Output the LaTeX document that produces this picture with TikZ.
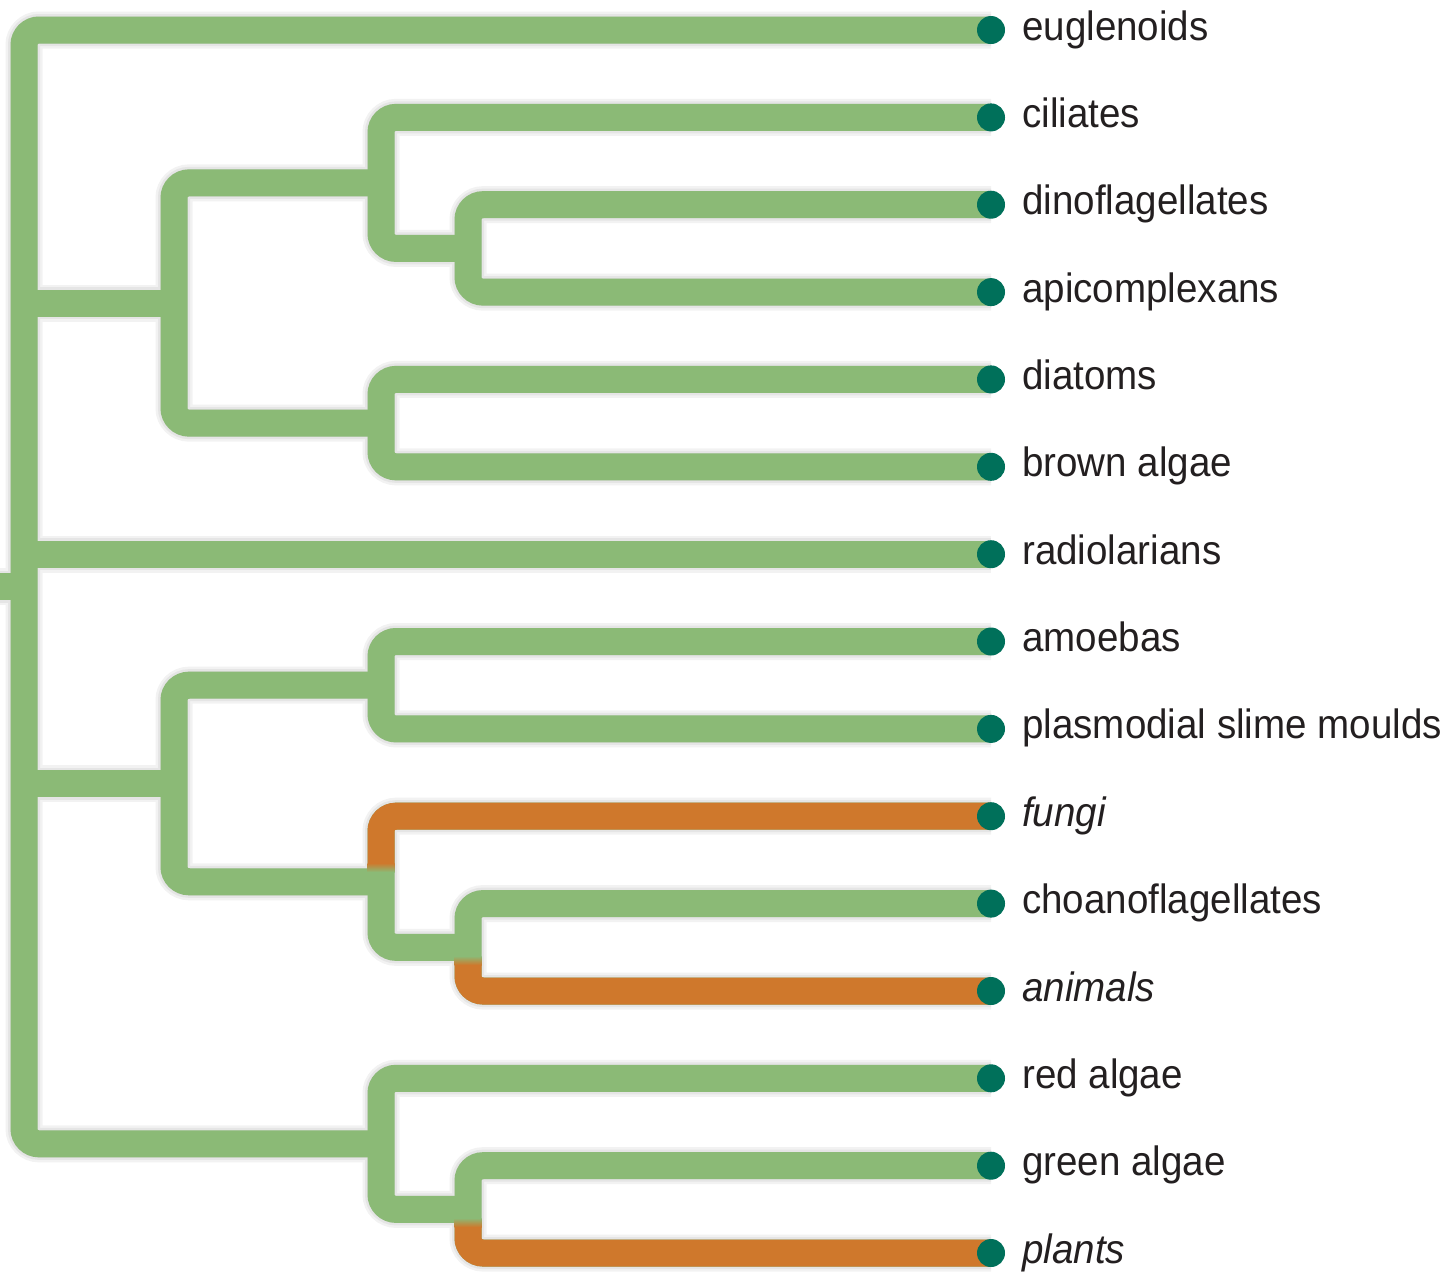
\documentclass[tikz,border=0pt]{standalone}
\usepackage{fontspec}
\setmainfont{Liberation Sans}[FakeStretch=0.94]
\usetikzlibrary{calc}
\definecolor{brgreen}{HTML}{8BBA76}
\definecolor{brorange}{HTML}{CF782C}
\definecolor{dotc}{HTML}{00705A}
\definecolor{txt}{HTML}{231F20}
\tikzset{
  brbase/.style={line width=27, rounded corners=15, line cap=butt},
  brg/.style={brbase, draw=brgreen},
  bro/.style={brbase, draw=brorange},
  shone/.style={line width=37, rounded corners=15, draw=black!5},
  shtwo/.style={line width=32, rounded corners=15, draw=black!10},
  shthree/.style={line width=27, rounded corners=15, draw=black!16},
  leafdot/.style={circle, fill=dotc, minimum size=28, inner sep=0},
  lab/.style={anchor=base west, inner sep=0, text=txt, font=\fontsize{41}{43}\selectfont},
  itlab/.style={lab, font=\fontsize{41}{43}\selectfont\itshape},
}
\newcommand\treebranches[1]{%
  \draw[#1] (e1) -- (top) -- (bot) -- (jC);
  \draw[#1] (rootend) -- (root);
  \draw[#1] (jA -| top) -- (jA);
  \draw[#1] (e7 -| top) -- (e7);
  \draw[#1] (jB -| top) -- (jB);
  \draw[#1] (jA1) -- (jA1 -| jA) -- (jA2 -| jA) -- (jA2);
  \draw[#1] (e2) -- (e2 -| jA1) -- (jA1b -| jA1) -- (jA1b);
  \draw[#1] (e3) -- (e3 -| jA1b) -- (e4 -| jA1b) -- (e4);
  \draw[#1] (e5) -- (e5 -| jA2) -- (e6 -| jA2) -- (e6);
  \draw[#1] (jB1) -- (jB1 -| jB) -- (jB2 -| jB) -- (jB2);
  \draw[#1] (e8) -- (e8 -| jB1) -- (e9 -| jB1) -- (e9);
  \draw[#1] (e10) -- (e10 -| jB2) -- (jB2b -| jB2) -- (jB2b);
  \draw[#1] (e11) -- (e11 -| jB2b) -- (e12 -| jB2b) -- (e12);
  \draw[#1] (e13) -- (e13 -| jC) -- (jC1 -| jC) -- (jC1);
  \draw[#1] (e14) -- (e14 -| jC1) -- (e15 -| jC1) -- (e15);
}
\begin{document}
\begin{tikzpicture}[x=1pt,y=-1pt]
\useasboundingbox (0,0) rectangle (1455,1283);
% leaf positions
\coordinate (e1) at (991,30);
\coordinate (e2) at (991,117.4);
\coordinate (e3) at (991,204.7);
\coordinate (e4) at (991,292.1);
\coordinate (e5) at (991,379.4);
\coordinate (e6) at (991,466.8);
\coordinate (e7) at (991,554.2);
\coordinate (e8) at (991,641.5);
\coordinate (e9) at (991,728.9);
\coordinate (e10) at (991,816.2);
\coordinate (e11) at (991,903.6);
\coordinate (e12) at (991,991);
\coordinate (e13) at (991,1078.3);
\coordinate (e14) at (991,1165.7);
\coordinate (e15) at (991,1253);
% internal junctions
\coordinate (top) at (24,30);
\coordinate (bot) at (24,1143.8);
\coordinate (root) at (24,586.9);
\coordinate (rootend) at (0,586.9);
\coordinate (jA) at (174,303);
\coordinate (jA1) at (381,182.9);
\coordinate (jA1b) at (468,248.4);
\coordinate (jA2) at (381,423.1);
\coordinate (jB) at (174,783.5);
\coordinate (jB1) at (381,685.2);
\coordinate (jB2) at (381,881.75);
\coordinate (jB2b) at (468,947.3);
\coordinate (jC) at (381,1143.8);
\coordinate (jC1) at (468,1209.35);
\coordinate (oF) at (381,864);
\coordinate (oA) at (468,964);
\coordinate (oP) at (468,1226);
% shadows
\begin{scope}[shift={(5,9)}]
  \treebranches{shone}
  \treebranches{shtwo}
  \treebranches{shthree}
\end{scope}
% branches
\treebranches{brg}
% orange lineages
\draw[bro] (oF) -- (e10 -| jB2) -- (e10);
\draw[bro] (oA) -- (e12 -| jB2b) -- (e12);
\draw[bro] (oP) -- (e15 -| jC1) -- (e15);
\shade[top color=brorange, bottom color=brgreen] (367.5,863) rectangle (394.5,872);
\shade[top color=brgreen, bottom color=brorange] (454.5,956) rectangle (481.5,965);
\shade[top color=brgreen, bottom color=brorange] (454.5,1218) rectangle (481.5,1227);
% leaf dots
\foreach \i in {1,...,15} \node[leafdot] (d\i) at (e\i) {};
% labels
\node[lab] (l1) at ($(e1)+(31,10)$) {euglenoids};
\node[lab] (l2) at ($(e2)+(31,10)$) {ciliates};
\node[lab] (l3) at ($(e3)+(31,10)$) {dinoflagellates};
\node[lab] (l4) at ($(e4)+(31,10)$) {apicomplexans};
\node[lab] (l5) at ($(e5)+(31,10)$) {diatoms};
\node[lab] (l6) at ($(e6)+(31,10)$) {brown algae};
\node[lab] (l7) at ($(e7)+(31,10)$) {radiolarians};
\node[lab] (l8) at ($(e8)+(31,10)$) {amoebas};
\node[lab] (l9) at ($(e9)+(31,10)$) {plasmodial slime moulds};
\node[itlab] (l10) at ($(e10)+(31,10)$) {fungi};
\node[lab] (l11) at ($(e11)+(31,10)$) {choanoflagellates};
\node[itlab] (l12) at ($(e12)+(31,10)$) {animals};
\node[lab] (l13) at ($(e13)+(31,10)$) {red algae};
\node[lab] (l14) at ($(e14)+(31,10)$) {green algae};
\node[itlab] (l15) at ($(e15)+(31,10)$) {plants};
\end{tikzpicture}
\end{document}
